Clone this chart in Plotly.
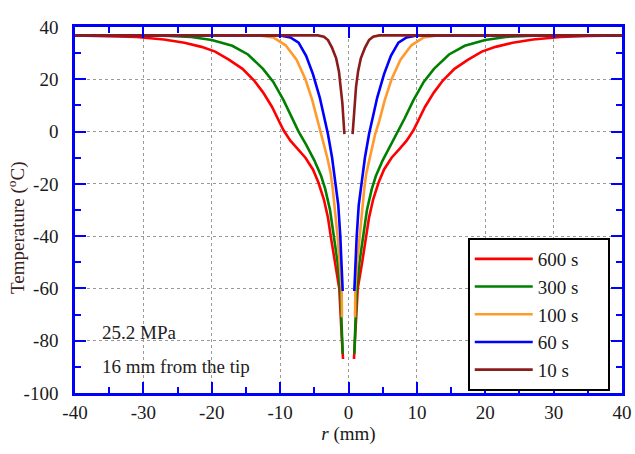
import plotly.graph_objects as go

# distance from the axis (mm) and temperature (°C); profiles are mirrored about r = 0
labels = ["600 s", "300 s", "100 s", "60 s", "10 s"]
colors = ["#ff0000", "#008000", "#ff9a2e", "#0000ff", "#8b1c1c"]

d_600 = [40, 35, 31, 27, 24, 21.5, 19.5, 17.5, 15.5, 13.8, 12.5, 11.2, 10.3, 9.5, 8.5, 7.5, 6.3, 5.2, 4.4, 3.6, 3.0, 2.6, 2.0, 1.35, 1.0, 0.8]
t_600 = [36.8, 36.6, 36.2, 35.2, 34, 32.4, 30.6, 27.5, 24, 19.5, 15, 9.5, 5, 0.5, -3.5, -6.5, -10, -14.5, -19.5, -26, -33, -40, -50, -60, -78, -87]

d_300 = [40, 27, 23, 20, 17, 14.7, 12.5, 11.0, 9.5, 8.2, 7.3, 6.2, 5.0, 4.0, 3.4, 2.7, 2.1, 1.6, 1.2, 1.0, 0.85]
t_300 = [36.8, 36.7, 36.2, 35, 32.8, 29.5, 24, 19, 12, 5, 0, -5, -11, -17, -22, -30, -40, -50, -60, -72, -85]

d_100 = [40, 13, 11, 9.2, 7.6, 6.3, 5.3, 4.5, 3.9, 3.1, 2.6, 2.3, 1.6, 1.2, 1.0, 0.95]
t_100 = [36.8, 36.8, 36, 33, 27.5, 20, 12, 4, -1, -10, -16, -22, -40, -52, -60, -71]

d_60 = [40, 10, 8.5, 7.3, 6.2, 5.2, 4.2, 3.5, 3.0, 2.4, 1.9, 1.5, 1.2, 1.0, 0.85]
t_60 = [36.8, 36.8, 36, 34, 29, 22, 13, 5, -1, -10, -19, -28, -40, -50, -61]

d_10 = [40, 4.5, 3.6, 3.0, 2.4, 1.8, 1.4, 1.1, 0.9, 0.75, 0.65, 0.6]
t_10 = [36.8, 36.8, 36.3, 35, 32, 28, 23, 17, 11, 5, 1, -1]

series = [(d_600, t_600), (d_300, t_300), (d_100, t_100), (d_60, t_60), (d_10, t_10)]

x_ticks = [-40, -30, -20, -10, 0, 10, 20, 30, 40]
x_ticktext = ["-40", "-30", "-20", "-10", "0", "10", "20", "30", "40"]
y_ticks = [-100, -80, -60, -40, -20, 0, 20, 40]
y_ticktext = ["-100", "-80", "-60", "-40", "-20", "0", "20", "40"]

SERIF = "Liberation Serif, Times New Roman, serif"
TXT = "#1a1a1a"
PAD = "\u00a0" * 5  # right padding inside the legend box

fig = go.Figure()
for (d, t), name, c in zip(series, labels, colors):
    xs = [-v for v in d] + [None] + [v for v in reversed(d)]
    ys = list(t) + [None] + list(reversed(t))
    fig.add_trace(go.Scatter(x=xs, y=ys, mode="lines", name=name + PAD, legendgroup=name,
                             line=dict(color=c, width=2.6), connectgaps=False))

axis_common = dict(
    showline=True, linecolor="#0000ff", linewidth=2.5, mirror="ticks",
    ticks="inside", ticklen=11, tickwidth=2, tickcolor="#0000ff",
    showgrid=True, gridcolor="#9a9a9a", griddash="dot", gridwidth=1,
    zeroline=False, automargin=False,
    tickfont=dict(family=SERIF, size=19, color=TXT),
)

fig.update_xaxes(range=[-40, 40], tickvals=x_ticks, ticktext=x_ticktext,
                 minor=dict(dtick=5, ticks="inside", ticklen=6, tickwidth=2, tickcolor="#0000ff", showgrid=False),
                 title=dict(text="<i>r</i> (mm)", font=dict(family=SERIF, size=19, color=TXT), standoff=6),
                 ticklabelstandoff=0, **axis_common)
fig.update_yaxes(range=[-100, 40], tickvals=y_ticks, ticktext=y_ticktext,
                 minor=dict(dtick=10, ticks="inside", ticklen=6, tickwidth=2, tickcolor="#0000ff", showgrid=False),
                 ticklabelstandoff=10, **axis_common)

# y-axis title placed as an annotation so its position matches the reference
fig.add_annotation(x=-0.106, y=0.451, xref="paper", yref="paper", text="Temperature (<sup>o</sup>C)",
                   textangle=-90, showarrow=False, xanchor="center", yanchor="middle",
                   font=dict(family=SERIF, size=19, color="#3a2020"))

fig.add_annotation(x=-36.3, y=-77, xref="x", yref="y", text="25.2 MPa", showarrow=False,
                   xanchor="left", yanchor="middle", font=dict(family=SERIF, size=19, color="#222222"))
fig.add_annotation(x=-36.3, y=-90, xref="x", yref="y", text="16 mm from the tip", showarrow=False,
                   xanchor="left", yanchor="middle", font=dict(family=SERIF, size=19, color="#222222"))

fig.update_layout(
    width=635, height=454,
    margin=dict(l=75, r=13, t=27, b=61, autoexpand=False),
    paper_bgcolor="white", plot_bgcolor="white",
    showlegend=True,
    legend=dict(x=0.718, y=0.4235, xanchor="left", yanchor="top",
                bgcolor="white", bordercolor="black", borderwidth=2,
                font=dict(family=SERIF, size=19, color=TXT),
                tracegroupgap=0, itemwidth=58),
)

fig.write_html("out.html")
